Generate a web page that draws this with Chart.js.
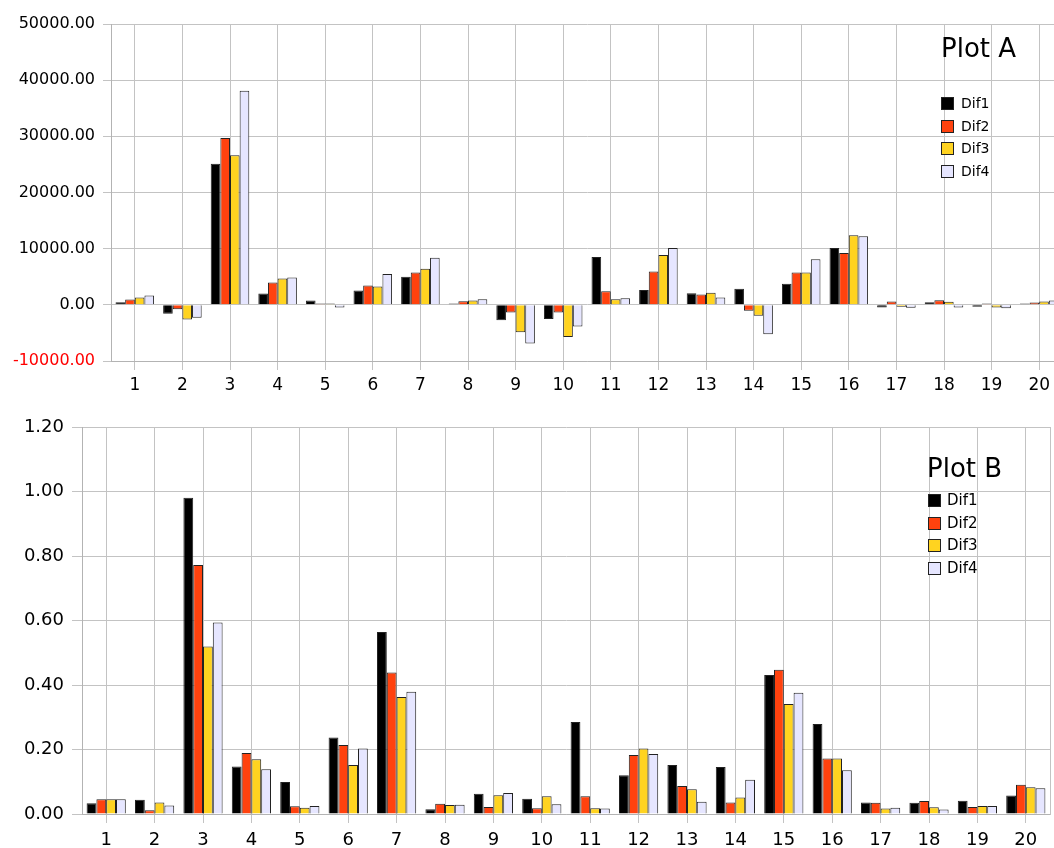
<!DOCTYPE html>
<html>
<head>
<meta charset="utf-8">
<script src="https://cdn.jsdelivr.net/npm/chart.js@4.4.1/dist/chart.umd.min.js"></script>
<style>
  html, body { margin: 0; padding: 0; background: #fff; overflow: hidden; }
  #wrapA { position: absolute; left: 0; top: 0; width: 1054px; height: 400px; overflow: hidden; }
  #wrapB { position: absolute; left: 0; top: 400px; width: 1054px; height: 448px; overflow: hidden; }
</style>
</head>
<body>
<div id="wrapA"><canvas id="plotA" width="1064" height="400"></canvas></div>
<div id="wrapB"><canvas id="plotB" width="1054" height="448"></canvas></div>
<script>
// categories and series
const categories = ['1','2','3','4','5','6','7','8','9','10','11','12','13','14','15','16','17','18','19','20'];
const seriesNames = ['Dif1', 'Dif2', 'Dif3', 'Dif4'];
const seriesColors = ['#000000', '#ff420e', '#ffd320', '#e6e6ff'];

// Plot A
const aDif1 = [480, -1600, 25100, 2020, 770, 2560, 5000, 240, -2740, -2500, 8500, 2620, 2080, 2860, 3750, 10100, -480, 480, -360, 240];
const aDif2 = [950, -770, 29700, 3990, 240, 3450, 5770, 650, -1370, -1370, 2440, 5950, 1850, -1070, 5770, 9230, 600, 830, 240, 420];
const aDif3 = [1310, -2620, 26650, 4700, 240, 3270, 6430, 770, -4880, -5710, 1010, 8870, 2140, -1960, 5770, 12380, -360, 540, -480, 600];
const aDif4 = [1670, -2320, 38100, 4880, -480, 5480, 8390, 1010, -6900, -3870, 1190, 10120, 1310, -5240, 8100, 12200, -540, -480, -600, 770];

// Plot B
const bDif1 = [0.033, 0.044, 0.981, 0.147, 0.099, 0.237, 0.564, 0.015, 0.063, 0.047, 0.285, 0.120, 0.152, 0.146, 0.431, 0.279, 0.036, 0.035, 0.041, 0.057];
const bDif2 = [0.046, 0.012, 0.772, 0.189, 0.024, 0.214, 0.439, 0.032, 0.022, 0.018, 0.055, 0.183, 0.087, 0.036, 0.447, 0.172, 0.035, 0.040, 0.022, 0.091];
const bDif3 = [0.046, 0.036, 0.519, 0.170, 0.019, 0.152, 0.363, 0.028, 0.058, 0.055, 0.018, 0.203, 0.077, 0.051, 0.341, 0.172, 0.017, 0.021, 0.025, 0.083];
const bDif4 = [0.046, 0.026, 0.594, 0.139, 0.025, 0.203, 0.379, 0.029, 0.065, 0.030, 0.017, 0.186, 0.038, 0.106, 0.376, 0.136, 0.019, 0.014, 0.025, 0.080];

const FONT = '"DejaVu Sans", Verdana, sans-serif';
const GRID = '#c3c3c3';

// draws the "Plot X" caption and the little legend inside the plot area
const cornerLegend = {
  id: 'cornerLegend',
  afterDraw(chart, args, opts) {
    const ctx = chart.ctx;
    ctx.save();
    ctx.fillStyle = '#000';
    ctx.textAlign = 'left';
    ctx.textBaseline = 'alphabetic';
    ctx.font = opts.titleSize + 'px ' + FONT;
    ctx.fillText(opts.title, opts.titleX, opts.titleY);
    ctx.font = opts.itemSize + 'px ' + FONT;
    ctx.textBaseline = 'middle';
    chart.data.datasets.forEach((ds, i) => {
      const cy = Math.round(opts.itemY + i * opts.itemGap);
      ctx.fillStyle = ds.backgroundColor;
      ctx.fillRect(opts.boxX, cy - 6, 13, 13);
      ctx.strokeStyle = '#222';
      ctx.lineWidth = 1;
      ctx.strokeRect(opts.boxX + 0.5, cy - 5.5, 12, 12);
      ctx.fillStyle = '#000';
      ctx.fillText(ds.label, opts.textX, cy + 1);
    });
    ctx.restore();
  }
};

function makeDatasets(arrs) {
  return arrs.map((d, i) => ({
    label: seriesNames[i],
    data: d,
    backgroundColor: seriesColors[i],
    borderColor: '#222',
    borderWidth: 1,
    barPercentage: 1.0,
    categoryPercentage: 0.81
  }));
}

function makeChart(id, datasets, cfg) {
  return new Chart(document.getElementById(id).getContext('2d'), {
    type: 'bar',
    data: { labels: categories, datasets: datasets },
    plugins: [cornerLegend],
    options: {
      responsive: false,
      animation: false,
      layout: { padding: { top: cfg.padTop, right: cfg.padRight, left: 0, bottom: 0 } },
      scales: {
        x: {
          offset: true,
          grid: { offset: false, color: GRID, tickLength: cfg.xTickLen, tickColor: GRID },
          border: { color: '#b3b3b3' },
          ticks: { autoSkip: false, maxRotation: 0, color: '#000', padding: cfg.xPad, font: { family: FONT, size: cfg.xFont } },
          afterFit: s => { s.height = cfg.xHeight; }
        },
        y: {
          min: cfg.min, max: cfg.max,
          grid: { color: GRID, tickLength: cfg.yTickLen, tickColor: GRID },
          border: { color: '#b3b3b3' },
          ticks: {
            stepSize: cfg.step,
            padding: 8,
            font: { family: FONT, size: cfg.yFont },
            color: c => (c.tick && c.tick.value < 0) ? '#ff0000' : '#000',
            callback: v => Number(v).toFixed(2)
          },
          afterFit: s => { s.width = cfg.yWidth; }
        },
        yRight: {
          position: 'right',
          min: cfg.min, max: cfg.max,
          grid: { display: false },
          ticks: { display: false },
          border: { display: true, color: GRID },
          afterFit: s => { s.width = 0; }
        }
      },
      plugins: {
        legend: { display: false },
        tooltip: { enabled: false },
        cornerLegend: cfg.legend
      }
    }
  });
}

makeChart('plotA', makeDatasets([aDif1, aDif2, aDif3, aDif4]), {
  padTop: 24, padRight: 1, min: -10000, max: 50000, step: 10000,
  yWidth: 111, xHeight: 39, yTickLen: 8, xTickLen: 9, xPad: 5, xFont: 17, yFont: 16,
  legend: { title: 'Plot A', titleSize: 26, titleX: 941, titleY: 57,
            itemSize: 14, boxX: 941, textX: 961, itemY: 103, itemGap: 22.5 }
});

makeChart('plotB', makeDatasets([bDif1, bDif2, bDif3, bDif4]), {
  padTop: 27, padRight: 4, min: 0, max: 1.2, step: 0.2,
  yWidth: 82, xHeight: 34, yTickLen: 10, xTickLen: 9, xPad: 7, xFont: 18, yFont: 18,
  legend: { title: 'Plot B', titleSize: 26, titleX: 927, titleY: 77,
            itemSize: 15, boxX: 928, textX: 947, itemY: 100, itemGap: 22.5 }
});
</script>
</body>
</html>
